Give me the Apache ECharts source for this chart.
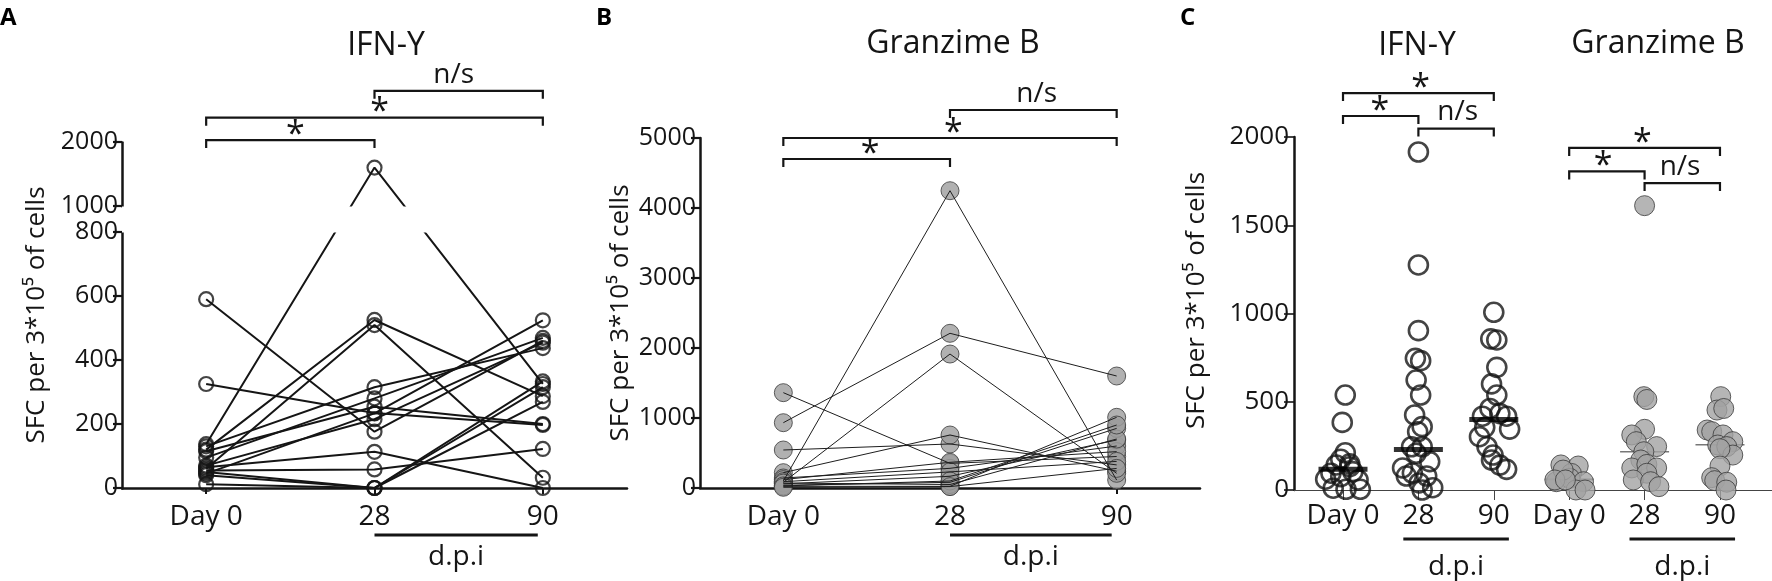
<!DOCTYPE html>
<html>
<head>
<meta charset="utf-8">
<title>SFC per 3*10^5 of cells</title>
<script src="https://cdn.jsdelivr.net/npm/echarts@6.0.0/dist/echarts.min.js"></script>
<style>
  html, body { margin: 0; padding: 0; background: #fff; }
  #chart { width: 1772px; height: 581px; }
</style>
</head>
<body>
<div id="chart"></div>
<script>
// ---------- data ----------
var days = ['Day 0', '28', '90'];
var daysC = ['Day 0', '28', '90', 'Day 0', '28', '90'];

// A: IFN-Y, one value per donor and time point
var ifnDay0 = [590, 325, 137, 130, 120, 115, 95, 70, 65, 60, 55, 50, 45, 40, 12];
var ifn28   = [176, 234, 1600, 315, 525, 254, 280, 215, 113, 509, 58, 0, 233, 0, 0];
var ifn90   = [460, 197, 325, 437, 287, 200, 469, 454, 0, 32, 122, 269, 524, 333, 315];
var ticksA  = [0, 200, 400, 600, 800, 1000, 2000];

// B: Granzime B, one value per donor and time point
var grbDay0 = [1362, 933, 543, 100, 219, 143, 81, 60, 40, 24, 120, 90, 70, 30, 10];
var grb28   = [352, 2210, 629, 4247, 757, 281, 1914, 167, 81, 24, 367, 230, 50, 100, 20];
var grb90   = [450, 1600, 330, 114, 240, 600, 210, 686, 852, 1010, 520, 380, 700, 900, 280];

// C: [spread inside the column, value]
var cIfnDay0 = [[0.03,538],[-0.01,383],[0.03,211],[-0.03,174],[-0.09,142],[0.09,148],[-0.16,95],[0.13,104],
  [-0.03,76],[-0.23,61],[0.2,57],[-0.13,10],[0.04,4],[0.23,4],[0.09,132]];
var cIfn28 = [[0,1915],[0,1275],[0,903],[-0.04,746],[0.03,733],[-0.03,623],[0.03,538],[-0.05,425],[0.05,359],
  [-0.01,330],[-0.09,245],[0.05,245],[-0.03,208],[0.15,161],[-0.21,125],[-0.08,96],[0.11,79],[-0.16,79],
  [0.01,40],[0.19,13],[0.05,0]];
var cIfn90 = [[0,1007],[-0.04,856],[0.04,850],[0.04,695],[-0.03,601],[0.04,538],[-0.05,462],[0.08,433],
  [-0.15,418],[0.17,418],[-0.12,355],[0.21,345],[-0.19,302],[-0.09,245],[-0.01,198],[-0.03,170],[0.08,141],[0.17,117]];
var cGrbDay0 = [[-0.11,142],[0.12,136],[0.03,94],[-0.17,47],[0.01,66],[0.19,47],[0.09,0],[0.21,0],
  [-0.08,113],[-0.19,57],[-0.05,57]];
var cGrb28 = [[0,1611],[-0.01,529],[0.03,513],[0,344],[-0.17,312],[-0.11,274],[0.16,246],[-0.01,217],
  [-0.05,170],[-0.17,125],[0.03,145],[0.16,125],[0.03,95],[-0.15,57],[0.08,47],[0.19,19]];
var cGrb90 = [[0.01,529],[-0.04,453],[0.05,462],[-0.17,340],[-0.11,331],[0.04,312],[0.17,274],[-0.03,255],
  [0.09,246],[0.17,198],[0,234],[0,136],[-0.11,70],[-0.07,53],[0.09,44],[0.08,0]];
var cIfnMedian = [117, 230, 400];
var cGrbMedian = [60, 217, 256];

// significance brackets: [from, to, level, label x, label]
var sigA = [[0, 1, 2030, 0.53, '*'], [0, 2, 2380, 1.03, '*'], [1, 2, 2800, 1.47, 'n/s']];
var sigB = [[0, 1, 4700, 0.52, '*'], [0, 2, 5000, 1.02, '*'], [1, 2, 5400, 1.52, 'n/s']];
var sigC = [[1, 3, 2249, 2.03, '*'], [1, 2, 2119, 1.49, '*'], [2, 3, 2048, 2.52, 'n/s'],
            [4, 6, 1938, 4.97, '*'], [4, 5, 1805, 4.45, '*'], [5, 6, 1739, 5.47, 'n/s']];
// "d.p.i" underlines: [from, to]
var dpiA = [[1, 1.97]];
var dpiB = [[1, 1.97]];
var dpiC = [[1.8, 3.2], [4.8, 6.2]];

// ---------- helpers ----------
var FONT = 'Open Sans';
var INK = '#151515';

// broken axis of panel A: 0-800 linear, then 1000-2000 drawn 5x tighter
function aPos(v) { return v <= 800 ? v : 881.25 + (v - 1000) * 0.2; }
function aLabel(p) {
  for (var i = 0; i < ticksA.length; i++) {
    if (Math.abs(aPos(ticksA[i]) - p) < 0.5) return String(ticksA[i]);
  }
  return '';
}
function plain(v) { return String(v); }

function bracketSeries(gi, items, toY) {
  return {
    type: 'custom', xAxisIndex: gi, yAxisIndex: gi, clip: false, silent: true, z: 6,
    data: items.map(function (d) { return [d[0], d[1], toY(d[2]), d[3]]; }),
    renderItem: function (params, api) {
      var it = items[params.dataIndex];
      var y = toY(it[2]);
      var p1 = api.coord([it[0], y]);
      var p2 = api.coord([it[1], y]);
      var pl = api.coord([it[3], y]);
      var star = it[4] === '*';
      return {
        type: 'group',
        children: [{
          type: 'polyline',
          shape: { points: [[p1[0], p1[1] + 8], [p1[0], p1[1]], [p2[0], p2[1]], [p2[0], p2[1] + 8]] },
          style: { stroke: INK, lineWidth: 2.2, fill: null }
        }, {
          type: 'text',
          x: pl[0], y: p1[1] - (star ? 5 : 16),
          style: {
            text: it[4], align: 'center', verticalAlign: 'middle',
            font: (star ? '34px ' : '28px ') + FONT, fill: INK
          }
        }]
      };
    }
  };
}

function dpiSeries(gi, items, lineDy, textDy) {
  return {
    type: 'custom', xAxisIndex: gi, yAxisIndex: gi, clip: false, silent: true, z: 6,
    data: items,
    renderItem: function (params, api) {
      var it = items[params.dataIndex];
      var p1 = api.coord([it[0], 0]);
      var p2 = api.coord([it[1], 0]);
      return {
        type: 'group',
        children: [{
          type: 'line',
          shape: { x1: p1[0], y1: p1[1] + lineDy, x2: p2[0], y2: p2[1] + lineDy },
          style: { stroke: INK, lineWidth: 3.2 }
        }, {
          type: 'text',
          x: (p1[0] + p2[0]) / 2, y: p1[1] + textDy,
          style: { text: 'd.p.i', align: 'center', verticalAlign: 'middle', font: '28px ' + FONT, fill: INK }
        }]
      };
    }
  };
}

function yName(gap, lift) {
  return {
    name: 'SFC per 3*10\u2075 of cells', nameLocation: 'middle', nameGap: gap,
    nameTextStyle: { fontSize: 26, fontFamily: FONT, color: INK, padding: [0, 0, 0, lift || 0] }
  };
}

// time points sit at 0, 1, 2 on a value axis so brackets can use in-between positions
function dayX(gi) {
  return {
    gridIndex: gi, type: 'value', min: -0.5, max: 2.5,
    axisLine: { onZero: false, lineStyle: { color: INK, width: 2.5 } },
    axisTick: { show: true, customValues: [0, 1, 2], length: 6, lineStyle: { color: INK, width: 2 } },
    axisLabel: {
      customValues: [0, 1, 2], fontSize: 28, fontFamily: FONT, color: INK, margin: 15,
      formatter: function (v) { return days[Math.round(v)]; }
    },
    splitLine: { show: false }
  };
}

// ---------- series ----------
var series = [];

// A lines + hollow circles
ifnDay0.forEach(function (d0, i) {
  series.push({
    type: 'line', xAxisIndex: 0, yAxisIndex: 0, symbol: 'none', silent: true, z: 2,
    data: [[0, aPos(d0)], [1, aPos(ifn28[i])], [2, aPos(ifn90[i])]],
    lineStyle: { color: INK, width: 2 }
  });
});
var ptsA = [];
ifnDay0.forEach(function (d0, i) {
  ptsA.push([0, aPos(d0)], [1, aPos(ifn28[i])], [2, aPos(ifn90[i])]);
});
series.push({
  type: 'scatter', xAxisIndex: 0, yAxisIndex: 0, data: ptsA, symbolSize: 14, silent: true, z: 3,
  itemStyle: { color: 'rgba(255,255,255,0)', borderColor: INK, borderWidth: 2.2 }
});

// B grey dots under thin lines
var ptsB = [];
grbDay0.forEach(function (d0, i) {
  ptsB.push([0, d0], [1, grb28[i]], [2, grb90[i]]);
});
series.push({
  type: 'scatter', xAxisIndex: 1, yAxisIndex: 1, data: ptsB, symbolSize: 18, silent: true, z: 2,
  itemStyle: { color: '#9d9d9d', borderColor: '#3a3a3a', borderWidth: 1 }
});
grbDay0.forEach(function (d0, i) {
  series.push({
    type: 'line', xAxisIndex: 1, yAxisIndex: 1, symbol: 'none', silent: true, z: 3,
    data: [[0, d0], [1, grb28[i]], [2, grb90[i]]],
    lineStyle: { color: '#1e1e1e', width: 1 }
  });
});

// C scatter columns
function spread(list, col) {
  return list.map(function (p) { return [col + p[0], p[1]]; });
}
series.push({
  type: 'scatter', xAxisIndex: 2, yAxisIndex: 2, symbol: 'rect', silent: true, z: 1,
  symbolSize: [49, 1.6], itemStyle: { color: '#555' },
  data: cGrbMedian.map(function (m, k) { return [4 + k, m]; })
});
series.push({
  type: 'scatter', xAxisIndex: 2, yAxisIndex: 2, symbolSize: 19, silent: true, z: 2,
  data: spread(cIfnDay0, 1).concat(spread(cIfn28, 2), spread(cIfn90, 3)),
  itemStyle: { color: 'rgba(255,255,255,0)', borderColor: INK, borderWidth: 2.6 }
});
series.push({
  type: 'scatter', xAxisIndex: 2, yAxisIndex: 2, symbolSize: 20, silent: true, z: 2,
  data: spread(cGrbDay0, 4).concat(spread(cGrb28, 5), spread(cGrb90, 6)),
  itemStyle: { color: '#a3a3a3', borderColor: '#3a3a3a', borderWidth: 1 }
});
series.push({
  type: 'scatter', xAxisIndex: 2, yAxisIndex: 2, symbol: 'rect', symbolSize: [49, 5], silent: true, z: 4,
  itemStyle: { color: '#000' },
  data: cIfnMedian.map(function (m, k) { return [1 + k, m]; })
});

series.push(bracketSeries(0, sigA, aPos));
series.push(bracketSeries(1, sigB, function (v) { return v; }));
series.push(bracketSeries(2, sigC, function (v) { return v; }));
series.push(dpiSeries(0, dpiA, 47, 69));
series.push(dpiSeries(1, dpiB, 47, 69));
series.push(dpiSeries(2, dpiC, 49, 77));

// ---------- chart ----------
var chart = echarts.init(document.getElementById('chart'), null, { renderer: 'canvas' });
var option = {
  animation: false,
  backgroundColor: '#fff',
  grid: [
    { left: 122, width: 505, top: 142, height: 346 },
    { left: 700, width: 500, top: 138, height: 350 },
    { left: 1294, width: 478, top: 137, height: 353 }
  ],
  xAxis: [
    dayX(0),
    dayX(1),
    {
      gridIndex: 2, type: 'value', min: 0.35, max: 6.69,
      axisLine: { onZero: false, lineStyle: { color: '#444', width: 1 } },
      axisTick: { show: true, customValues: [1, 2, 3, 4, 5, 6], length: 10, lineStyle: { color: '#444', width: 1 } },
      axisLabel: {
        customValues: [1, 2, 3, 4, 5, 6], fontSize: 28, fontFamily: FONT, color: INK, margin: 12,
        formatter: function (v) { return daysC[Math.round(v) - 1]; }
      },
      splitLine: { show: false }
    }
  ],
  yAxis: [
    Object.assign(yName(72), {
      gridIndex: 0, type: 'value', min: 0, max: aPos(2000),
      breaks: [{ start: aPos(800), end: aPos(1000), gap: '7.5%' }],
      breakArea: {
        show: true, expandOnClick: false, zigzagAmplitude: 0, zigzagZ: 100,
        itemStyle: { color: '#fff', borderColor: '#fff', borderWidth: 0, opacity: 1 }
      },
      axisLine: { show: true, onZero: false, lineStyle: { color: INK, width: 2.5 } },
      axisTick: { show: true, length: 9, customValues: ticksA.map(aPos), lineStyle: { color: INK, width: 2.2 } },
      axisLabel: { customValues: ticksA.map(aPos), formatter: aLabel, fontSize: 25, fontFamily: FONT, color: INK, margin: 4 },
      splitLine: { show: false }
    }),
    Object.assign(yName(66), {
      gridIndex: 1, type: 'value', min: 0, max: 5000, interval: 1000, z: 150,
      axisLine: { show: true, onZero: false, lineStyle: { color: INK, width: 2.5 } },
      axisTick: { show: true, length: 9, lineStyle: { color: INK, width: 2.2 } },
      axisLabel: { formatter: plain, fontSize: 25, fontFamily: FONT, color: INK, margin: 4 },
      splitLine: { show: false }
    }),
    Object.assign(yName(84, 26), {
      gridIndex: 2, type: 'value', min: 0, max: 2000, interval: 500,
      axisLine: { show: true, onZero: false, lineStyle: { color: INK, width: 2.5 } },
      axisTick: { show: true, length: 10, lineStyle: { color: INK, width: 1.6 } },
      axisLabel: { formatter: plain, fontSize: 26, fontFamily: FONT, color: INK, margin: 5 },
      splitLine: { show: false }
    })
  ],
  graphic: [
    { type: 'text', x: 0, y: 18, style: { text: 'A', font: 'bold 24px ' + FONT, fill: '#000', verticalAlign: 'middle' } },
    { type: 'text', x: 596, y: 18, style: { text: 'B', font: 'bold 24px ' + FONT, fill: '#000', verticalAlign: 'middle' } },
    { type: 'text', x: 1180, y: 18, style: { text: 'C', font: 'bold 24px ' + FONT, fill: '#000', verticalAlign: 'middle' } },
    { type: 'text', x: 386, y: 46, style: { text: 'IFN-Y', font: '32px ' + FONT, fill: INK, align: 'center', verticalAlign: 'middle' } },
    { type: 'text', x: 953, y: 44, style: { text: 'Granzime B', font: '32px ' + FONT, fill: INK, align: 'center', verticalAlign: 'middle' } },
    { type: 'text', x: 1417, y: 46, style: { text: 'IFN-Y', font: '32px ' + FONT, fill: INK, align: 'center', verticalAlign: 'middle' } },
    { type: 'text', x: 1658, y: 44, style: { text: 'Granzime B', font: '32px ' + FONT, fill: INK, align: 'center', verticalAlign: 'middle' } }
  ],
  series: series
};
chart.setOption(option);
</script>
</body>
</html>
